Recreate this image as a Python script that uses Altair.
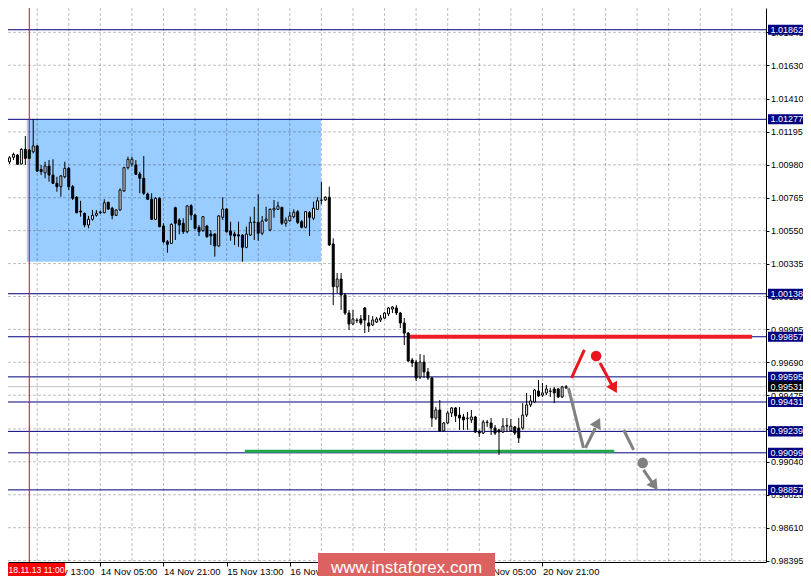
import altair as alt
import pandas as pd

# ---------------- data ----------------
opens = [1.01024, 1.01000, 1.01029, 1.01044, 1.00985, 1.01081, 1.01076, 1.01065, 1.01103, 1.00950,
         1.00928, 1.00972, 1.00913, 1.00859, 1.00837, 1.00902, 1.00957, 1.00837, 1.00768, 1.00678,
         1.00663, 1.00587, 1.00624, 1.00650, 1.00668, 1.00667, 1.00735, 1.00696, 1.00650, 1.00685,
         1.00809, 1.00961, 1.00985, 1.00979, 1.00920, 1.00892, 1.00789, 1.00755, 1.00624, 1.00761,
         1.00580, 1.00478, 1.00467, 1.00700, 1.00619, 1.00598, 1.00543, 1.00713, 1.00652, 1.00572,
         1.00550, 1.00580, 1.00528, 1.00528, 1.00450, 1.00637, 1.00691, 1.00548, 1.00528, 1.00523,
         1.00521, 1.00441, 1.00521, 1.00604, 1.00604, 1.00533, 1.00615, 1.00554, 1.00685, 1.00689,
         1.00702, 1.00598, 1.00615, 1.00641, 1.00674, 1.00608, 1.00572, 1.00667, 1.00631, 1.00689,
         1.00748, 1.00750, 1.00768, 1.00463, 1.00182, 1.00234, 1.00130, 1.00012, 0.99940, 0.99966,
         0.99973, 1.00045, 0.99947, 0.99934, 0.99953, 0.99966, 0.99979, 1.00006, 1.00038, 1.00045,
         1.00012, 0.99947, 0.99881, 0.99705, 0.99692, 0.99594, 0.99692, 0.99627, 0.99588, 0.99326,
         0.99379, 0.99242, 0.99294, 0.99359, 0.99392, 0.99346, 0.99333, 0.99323, 0.99314, 0.99333,
         0.99235, 0.99228, 0.99297, 0.99294, 0.99261, 0.99249, 0.99235, 0.99274, 0.99242, 0.99268,
         0.99261, 0.99261, 0.99346, 0.99412, 0.99431, 0.99503, 0.99476, 0.99490, 0.99500, 0.99516,
         0.99516, 0.99464, 0.99523]
highs = [1.01044, 1.01037, 1.01059, 1.01050, 1.01088, 1.01168, 1.01083, 1.01277, 1.01109, 1.00979,
         1.01000, 1.01011, 1.01016, 1.00902, 1.00913, 1.01000, 1.00967, 1.00848, 1.00776, 1.00745,
         1.00667, 1.00646, 1.00685, 1.00685, 1.00678, 1.00755, 1.00739, 1.00706, 1.00689, 1.00826,
         1.00967, 1.01033, 1.01033, 1.01011, 1.00935, 1.01037, 1.00798, 1.00794, 1.00768, 1.00768,
         1.00598, 1.00489, 1.00598, 1.00706, 1.00631, 1.00631, 1.00717, 1.00722, 1.00659, 1.00587,
         1.00646, 1.00587, 1.00554, 1.00533, 1.00652, 1.00768, 1.00696, 1.00608, 1.00543, 1.00608,
         1.00528, 1.00576, 1.00641, 1.00706, 1.00787, 1.00646, 1.00706, 1.00696, 1.00750, 1.00739,
         1.00706, 1.00637, 1.00674, 1.00689, 1.00685, 1.00619, 1.00678, 1.00678, 1.00739, 1.00768,
         1.00870, 1.00776, 1.00837, 1.00500, 1.00273, 1.00273, 1.00143, 1.00032, 1.00032, 0.99979,
         0.99999, 1.00051, 0.99999, 0.99992, 0.99986, 0.99999, 1.00019, 1.00051, 1.00058, 1.00064,
         1.00019, 0.99979, 0.99888, 0.99718, 0.99705, 0.99744, 0.99738, 0.99653, 0.99594, 0.99398,
         0.99444, 0.99300, 0.99372, 0.99398, 0.99398, 0.99398, 0.99353, 0.99366, 0.99379, 0.99340,
         0.99249, 0.99314, 0.99314, 0.99326, 0.99281, 0.99249, 0.99326, 0.99326, 0.99320, 0.99274,
         0.99326, 0.99424, 0.99490, 0.99476, 0.99516, 0.99575, 0.99555, 0.99542, 0.99523, 0.99529,
         0.99523, 0.99536, 0.99542]
lows = [1.00959, 1.00985, 1.01011, 1.00979, 1.00983, 1.00979, 1.01018, 1.01055, 1.00935, 1.00913,
        1.00892, 1.00870, 1.00855, 1.00804, 1.00772, 1.00892, 1.00815, 1.00750, 1.00663, 1.00641,
        1.00572, 1.00565, 1.00615, 1.00641, 1.00659, 1.00663, 1.00685, 1.00624, 1.00646, 1.00680,
        1.00804, 1.00950, 1.00967, 1.00913, 1.00794, 1.00783, 1.00750, 1.00619, 1.00619, 1.00572,
        1.00467, 1.00406, 1.00463, 1.00489, 1.00526, 1.00528, 1.00533, 1.00619, 1.00559, 1.00515,
        1.00543, 1.00504, 1.00456, 1.00380, 1.00445, 1.00619, 1.00537, 1.00484, 1.00456, 1.00445,
        1.00347, 1.00435, 1.00515, 1.00489, 1.00484, 1.00521, 1.00608, 1.00546, 1.00634, 1.00685,
        1.00587, 1.00576, 1.00608, 1.00631, 1.00593, 1.00565, 1.00565, 1.00515, 1.00619, 1.00685,
        1.00722, 1.00745, 1.00450, 1.00064, 1.00143, 1.00032, 0.99999, 0.99901, 0.99934, 0.99947,
        0.99934, 0.99881, 0.99888, 0.99927, 0.99947, 0.99953, 0.99973, 0.99992, 1.00012, 0.99999,
        0.99914, 0.99803, 0.99692, 0.99659, 0.99568, 0.99581, 0.99588, 0.99575, 0.99268, 0.99314,
        0.99235, 0.99235, 0.99287, 0.99333, 0.99300, 0.99249, 0.99249, 0.99249, 0.99294, 0.99228,
        0.99202, 0.99222, 0.99268, 0.99215, 0.99215, 0.99085, 0.99228, 0.99235, 0.99235, 0.99215,
        0.99163, 0.99249, 0.99333, 0.99398, 0.99424, 0.99464, 0.99464, 0.99476, 0.99464, 0.99424,
        0.99457, 0.99457, 0.99516]
closes = [1.00992, 1.01026, 1.01048, 1.00983, 1.01081, 1.01022, 1.01022, 1.01103, 1.00939, 1.00935,
          1.00972, 1.00913, 1.00859, 1.00837, 1.00907, 1.00957, 1.00837, 1.00761, 1.00667, 1.00672,
          1.00587, 1.00624, 1.00650, 1.00663, 1.00672, 1.00732, 1.00691, 1.00650, 1.00685, 1.00815,
          1.00961, 1.01016, 1.01016, 1.00918, 1.00892, 1.00794, 1.00755, 1.00624, 1.00761, 1.00576,
          1.00478, 1.00461, 1.00591, 1.00598, 1.00587, 1.00543, 1.00711, 1.00652, 1.00565, 1.00543,
          1.00641, 1.00510, 1.00515, 1.00450, 1.00646, 1.00691, 1.00543, 1.00521, 1.00515, 1.00515,
          1.00441, 1.00528, 1.00604, 1.00606, 1.00533, 1.00613, 1.00626, 1.00689, 1.00696, 1.00711,
          1.00598, 1.00619, 1.00646, 1.00670, 1.00604, 1.00572, 1.00674, 1.00637, 1.00696, 1.00745,
          1.00750, 1.00768, 1.00456, 1.00184, 1.00234, 1.00130, 1.00012, 0.99940, 0.99973, 0.99963,
          0.99947, 0.99966, 0.99927, 0.99966, 0.99973, 0.99979, 1.00012, 1.00045, 1.00051, 1.00012,
          0.99947, 0.99881, 0.99699, 0.99686, 0.99588, 0.99692, 0.99627, 0.99588, 0.99326, 0.99379,
          0.99242, 0.99294, 0.99359, 0.99392, 0.99340, 0.99326, 0.99314, 0.99326, 0.99333, 0.99235,
          0.99228, 0.99300, 0.99300, 0.99261, 0.99228, 0.99235, 0.99274, 0.99278, 0.99274, 0.99228,
          0.99196, 0.99346, 0.99412, 0.99438, 0.99509, 0.99470, 0.99490, 0.99516, 0.99503, 0.99490,
          0.99464, 0.99529, 0.99531]

# horizontal level lines and their labels
level_prices = [1.01862, 1.01277, 1.00138, 0.99857, 0.99595, 0.99431, 0.99239, 0.99099, 0.98857]
current_price = 0.99531

# price axis tick labels
y_ticks = [1.01845, 1.01630, 1.01410, 1.01195, 1.00980, 1.00765, 1.00550, 1.00335, 1.00120,
           0.99905, 0.99690, 0.99475, 0.99255, 0.99040, 0.98825, 0.98610, 0.98395]

# time axis (bar index -> label), one bar per hour
x_tick_bars = [8, 24, 40, 56, 72, 88, 104, 120, 136]
x_tick_labels = ["13 Nov 13:00", "14 Nov 05:00", "14 Nov 21:00", "15 Nov 13:00", "16 Nov 05:00",
                 "16 Nov 21:00", "19 Nov 13:00", "20 Nov 05:00", "20 Nov 21:00"]
grid_bars = list(range(0, 192, 8))
cursor_bar = 6
cursor_label = "18.11.13 11:00"

# consolidation rectangle
box_bars = [5.375, 79.875]
box_prices = [1.01277, 1.00347]

# support / resistance strokes
green_bars, green_price = [60.6, 154.2], 0.99110
red_bars, red_price = [101.95, 189.1], 0.99857

# forecast strokes (bar index, price)
seg_k = [143.375, 150.6, 142.6, 146.9, 156.6, 161.6]
seg_p = [0.99588, 0.99686, 0.99522, 0.99131, 0.99248, 0.98987]
seg_k2 = [146.625, 153.6, 146.4, 149.4, 159.1, 163.9]
seg_p2 = [0.99771, 0.99542, 0.99131, 0.99261, 0.99118, 0.98902]
seg_col = ["#e8161e", "#e8161e", "#808080", "#808080", "#808080", "#808080"]

dot_k = [149.6, 161.4]
dot_p = [0.99731, 0.99033]
dot_col = ["#e8161e", "#808080"]

head_k = [154.2, 150.0, 164.4]
head_p = [0.99520, 0.99296, 0.98884]
head_ang = [151, 27, 145]
head_col = ["#e8161e", "#808080", "#808080"]

watermark = "www.instaforex.com"

# ---------------- build ----------------
FONT = "Liberation Sans"
W, H = 758, 554
xs = alt.Scale(domain=[1.875, 1.875 + W / 4.0], nice=False, zero=False)
ys = alt.Scale(domain=[0.98386, 1.02004], nice=False, zero=False)

candles = pd.DataFrame({"k": list(range(len(opens))), "o": opens, "h": highs, "l": lows, "c": closes})

label_expr = ""
for kk, lab in zip(x_tick_bars, x_tick_labels):
    label_expr += f"datum.value == {kk} ? '{lab}' : "
label_expr += "''"

x_axis = alt.Axis(values=x_tick_bars, labelExpr=label_expr, labelAlign="left", tickSize=4,
                  labelPadding=0, labelFontSize=9.5, labelFont=FONT, labelColor="black",
                  grid=False, title=None, domainColor="black", tickColor="black",
                  labelFlush=False, labelOverlap=False)
y_axis = alt.Axis(orient="right", values=y_ticks, format=".5f", labelFontSize=9, labelFont=FONT,
                  labelColor="black", tickSize=3, labelPadding=1.5, grid=False, title=None,
                  domainColor="black", tickColor="black", labelOverlap=False, labelFlush=False)


def X(f):
    return alt.X(f, scale=xs, axis=x_axis)


def Y(f):
    return alt.Y(f, scale=ys, axis=y_axis)


blue = alt.Chart(pd.DataFrame({"k": [box_bars[0]], "k2": [box_bars[1]],
                               "p": [box_prices[0]], "p2": [box_prices[1]]})).mark_rect(
    color="#99ccff", clip=True).encode(x=X("k:Q"), x2="k2:Q", y=Y("p:Q"), y2="p2:Q")

gv = alt.Chart(pd.DataFrame({"k": grid_bars})).mark_rule(
    color="black", opacity=0.25, strokeDash=[3, 2], strokeWidth=1, clip=True).encode(x=X("k:Q"))
gh = alt.Chart(pd.DataFrame({"p": y_ticks})).mark_rule(
    color="black", opacity=0.25, strokeDash=[3, 2], strokeWidth=1, clip=True).encode(y=Y("p:Q"))

cur = alt.Chart(pd.DataFrame({"p": [current_price]})).mark_rule(
    color="#c0c0c0", strokeWidth=1).encode(y=Y("p:Q"))
lev = alt.Chart(pd.DataFrame({"p": level_prices})).mark_rule(
    color="#000080", strokeWidth=1).encode(y=Y("p:Q"))
cursor = alt.Chart(pd.DataFrame({"k": [cursor_bar]})).mark_rule(
    color="#ff0000", strokeWidth=1).encode(x=X("k:Q"))

green = alt.Chart(pd.DataFrame({"k": [green_bars[0]], "k2": [green_bars[1]], "p": [green_price]})).mark_rule(
    color="#22a84a", strokeWidth=3).encode(x=X("k:Q"), x2="k2:Q", y=Y("p:Q"))
redl = alt.Chart(pd.DataFrame({"k": [red_bars[0]], "k2": [red_bars[1]], "p": [red_price]})).mark_rule(
    color="#ee1c24", strokeWidth=4).encode(x=X("k:Q"), x2="k2:Q", y=Y("p:Q"))

wick = alt.Chart(candles).mark_rule(color="black", strokeWidth=1, clip=True).encode(
    x=X("k:Q"), y=Y("l:Q"), y2="h:Q")
body = alt.Chart(candles).mark_bar(width=2, stroke="black", strokeWidth=1, clip=True).encode(
    x=X("k:Q"), y=Y("o:Q"), y2="c:Q",
    fill=alt.condition("datum.c >= datum.o", alt.value("white"), alt.value("black")))

segs = alt.Chart(pd.DataFrame({"k": seg_k, "p": seg_p, "k2": seg_k2, "p2": seg_p2, "col": seg_col})).mark_rule(
    strokeWidth=3).encode(x=X("k:Q"), y=Y("p:Q"), x2="k2:Q", y2="p2:Q", color=alt.Color("col:N", scale=None))
dots = alt.Chart(pd.DataFrame({"k": dot_k, "p": dot_p, "col": dot_col})).mark_circle(
    size=113, opacity=1).encode(x=X("k:Q"), y=Y("p:Q"), color=alt.Color("col:N", scale=None))
heads = alt.Chart(pd.DataFrame({"k": head_k, "p": head_p, "a": head_ang, "col": head_col})).mark_point(
    shape="triangle-up", filled=True, size=150, opacity=1).encode(
    x=X("k:Q"), y=Y("p:Q"), angle=alt.Angle("a:Q", scale=None), color=alt.Color("col:N", scale=None))

lab_df = pd.DataFrame({
    "p": level_prices + [current_price],
    "t": [f"{v:.5f}" for v in level_prices] + [f"{current_price:.5f}"],
    "f": ["#000080"] * len(level_prices) + ["#000000"],
})
lab_box = alt.Chart(lab_df).transform_calculate(
    top="datum.p + 0.00033", bot="datum.p - 0.00033").mark_rect().encode(
    x=alt.value(W + 2), x2=alt.value(795), y=Y("top:Q"), y2="bot:Q", color=alt.Color("f:N", scale=None))
lab_txt = alt.Chart(lab_df).mark_text(align="left", baseline="middle", color="white",
                                      fontSize=9, font=FONT).encode(
    x=alt.value(W + 4.5), y=Y("p:Q"), text="t:N")

cur_df = pd.DataFrame({"t": [cursor_label]})
cur_box = alt.Chart(cur_df).mark_rect(color="#ff0000").encode(
    x=alt.value(0), x2=alt.value(57), y=alt.value(555), y2=alt.value(568))
cur_txt = alt.Chart(cur_df).mark_text(align="left", baseline="middle", color="white",
                                      fontSize=8.6, font=FONT).encode(
    x=alt.value(0.5), y=alt.value(561.5), text="t:N")

wm_df = pd.DataFrame({"t": [watermark]})
wm_box = alt.Chart(wm_df).mark_rect(color="#dc6262").encode(
    x=alt.value(310), x2=alt.value(487), y=alt.value(545), y2=alt.value(568))
wm_txt = alt.Chart(wm_df).mark_text(align="center", baseline="middle", color="white",
                                    fontSize=17, font=FONT).encode(
    x=alt.value(398.5), y=alt.value(560), text="t:N")

chart = alt.layer(
    blue, gv, gh, cur, lev, cursor, green, redl, wick, body, segs, dots, heads,
    lab_box, lab_txt, cur_box, cur_txt, wm_box, wm_txt
).properties(
    width=W, height=H,
    autosize=alt.AutoSizeParams(type="none"),
    padding={"left": 0, "top": 0, "right": 795 - W, "bottom": 14},
).configure_view(stroke=None)

chart.save("out.html", embed_options={"renderer": "svg", "actions": False})
